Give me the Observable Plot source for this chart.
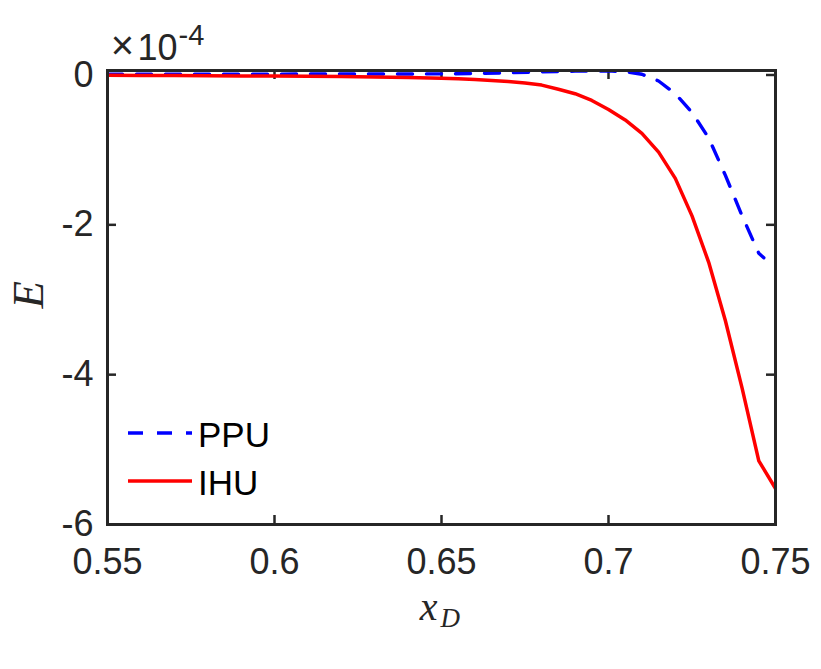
<!DOCTYPE html>
<html>
<head>
<meta charset="utf-8">
<script src="https://cdn.jsdelivr.net/npm/d3@7"></script>
<script src="https://cdn.jsdelivr.net/npm/@observablehq/plot@0.6"></script>
<style>
  html, body { margin: 0; padding: 0; background: #ffffff; }
  #chart svg { display: block; }
</style>
</head>
<body>
<div id="chart"></div>
<script>
// Error E (in units of 1e-4) versus x_D for the two schemes
const ppuX = [0.55, 0.56, 0.57, 0.58, 0.59, 0.60, 0.61, 0.62, 0.63, 0.64, 0.65, 0.66, 0.67, 0.68, 0.69, 0.70, 0.705, 0.71, 0.715, 0.72, 0.725, 0.73, 0.735, 0.74, 0.745, 0.7465];
const ppuE = [0.010, 0.010, 0.011, 0.011, 0.012, 0.012, 0.013, 0.013, 0.014, 0.014, 0.015, 0.020, 0.030, 0.042, 0.052, 0.055, 0.045, 0.010, -0.08, -0.25, -0.50, -0.84, -1.34, -1.88, -2.38, -2.44];

const ihuX = [0.55, 0.56, 0.57, 0.58, 0.59, 0.60, 0.61, 0.62, 0.63, 0.64, 0.65, 0.655, 0.66, 0.665, 0.67, 0.675, 0.68, 0.685, 0.69, 0.695, 0.70, 0.705, 0.71, 0.715, 0.72, 0.725, 0.73, 0.735, 0.74, 0.745, 0.75];
const ihuE = [-0.005, -0.006, -0.008, -0.010, -0.012, -0.014, -0.017, -0.021, -0.026, -0.033, -0.043, -0.050, -0.060, -0.072, -0.088, -0.108, -0.135, -0.19, -0.25, -0.34, -0.46, -0.60, -0.78, -1.03, -1.38, -1.88, -2.50, -3.28, -4.18, -5.15, -5.52];

const seriesNames = ["PPU", "IHU"];
const seriesColors = ["#0000ff", "#ff0000"];
const xTicks = [0.55, 0.60, 0.65, 0.70, 0.75];
const yTicks = [0, -2, -4, -6];

const ppu = ppuX.map((x, i) => ({x, e: ppuE[i]}));
const ihu = ihuX.map((x, i) => ({x, e: ihuE[i]}));

const W = 821, H = 669;
const mL = 107, mR = 46, mT = 70, mB = 145;
const innerW = W - mL - mR, innerH = H - mT - mB;
const ink = "#262626";
const sans = "'Liberation Sans', Arial, Helvetica, sans-serif";
const serif = "'Liberation Serif', 'Times New Roman', serif";
const tickLen = 9;

const chart = Plot.plot({
  width: W,
  height: H,
  marginLeft: mL,
  marginRight: mR,
  marginTop: mT,
  marginBottom: mB,
  style: {background: "#ffffff", color: ink, fontFamily: sans},
  x: {domain: [0.55, 0.75]},
  y: {domain: [-6, 0.06]},
  marks: [
    Plot.axisX({ticks: xTicks, tickSize: 0, tickPadding: 24, fontSize: 36, label: null,
      tickFormat: d => String(+d.toFixed(2)), fill: ink}),
    Plot.axisY({ticks: yTicks, tickSize: 0, tickPadding: 14, fontSize: 36, label: null,
      tickFormat: d => String(d), fill: ink}),
    // inward ticks on all four sides
    Plot.ruleX(xTicks, {x: d => d, stroke: ink, strokeWidth: 2.5, insetTop: innerH - tickLen}),
    Plot.ruleX(xTicks, {x: d => d, stroke: ink, strokeWidth: 2.5, insetBottom: innerH - tickLen}),
    Plot.ruleY(yTicks, {y: d => d, stroke: ink, strokeWidth: 2.5, insetRight: innerW - tickLen}),
    Plot.ruleY(yTicks, {y: d => d, stroke: ink, strokeWidth: 2.5, insetLeft: innerW - tickLen}),
    Plot.line(ppu, {x: "x", y: "e", stroke: seriesColors[0], strokeWidth: 3.4,
      strokeDasharray: "15,14", clip: true}),
    Plot.line(ihu, {x: "x", y: "e", stroke: seriesColors[1], strokeWidth: 3.5, clip: true}),
    Plot.frame({stroke: ink, strokeWidth: 3}),
    // exponent multiplier above the y axis
    Plot.text(["×"], {frameAnchor: "top-left", text: d => d, textAnchor: "middle", lineAnchor: "middle",
      dx: 15, dy: -24, fontSize: 40, fill: ink}),
    Plot.text(["10"], {frameAnchor: "top-left", text: d => d, textAnchor: "end", lineAnchor: "middle",
      dx: 70, dy: -22, fontSize: 36, fill: ink}),
    Plot.text(["-4"], {frameAnchor: "top-left", text: d => d, textAnchor: "start", lineAnchor: "middle",
      dx: 71, dy: -35, fontSize: 29, fill: ink}),
    // axis titles
    Plot.text(["E"], {frameAnchor: "left", text: d => d, rotate: -90, lineAnchor: "middle",
      dx: -79, dy: 11, fontSize: 45, fontStyle: "italic", fontFamily: serif, fill: ink}),
    Plot.text(["x"], {frameAnchor: "bottom", text: d => d, textAnchor: "end", lineAnchor: "middle",
      dx: -4, dy: 83, fontSize: 40, fontStyle: "italic", fontFamily: serif, fill: ink}),
    Plot.text(["D"], {frameAnchor: "bottom", text: d => d, textAnchor: "start", lineAnchor: "middle",
      dx: -1, dy: 94, fontSize: 27, fontStyle: "italic", fontFamily: serif, fill: ink})
  ]
});

document.getElementById("chart").appendChild(chart);

// legend in the lower-left corner of the axes
const svg = d3.select(chart);
const legend = svg.append("g")
  .attr("font-family", sans)
  .attr("font-size", 35)
  .attr("text-anchor", "start")
  .attr("fill", "#000");
seriesNames.forEach((name, i) => {
  const y = 433 + i * 48;
  legend.append("line")
    .attr("x1", 128).attr("x2", 192).attr("y1", y).attr("y2", y)
    .attr("stroke", seriesColors[i])
    .attr("stroke-width", i === 0 ? 3.4 : 3.5)
    .attr("stroke-dasharray", i === 0 ? "15,14" : null);
  legend.append("text")
    .attr("x", 198).attr("y", y + 14)
    .text(name);
});
</script>
</body>
</html>
